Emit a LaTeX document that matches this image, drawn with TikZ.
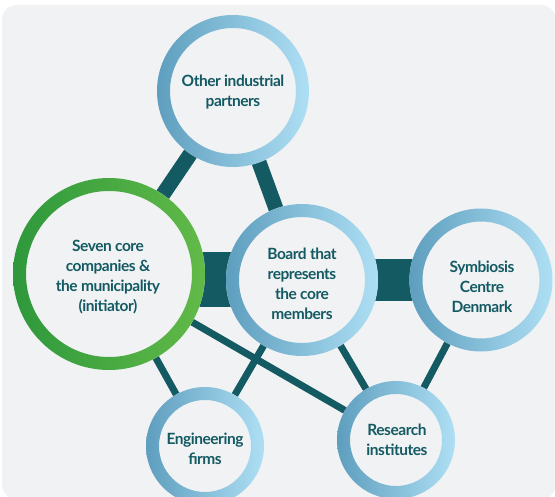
\documentclass[tikz,border=0pt]{standalone}
\usepackage{fontspec}
\setmainfont{Lato}[LetterSpace=-3]
\definecolor{bg}{HTML}{F1F2F4}
\definecolor{teal}{HTML}{145A63}
\definecolor{blueL}{HTML}{5E9EBE}
\definecolor{blueR}{HTML}{AEDFF4}
\definecolor{grnL}{HTML}{2E983C}
\definecolor{grnR}{HTML}{62BA48}
\begin{document}
\begin{tikzpicture}[x=1pt, y=-1pt,
    every node/.style={inner sep=0pt, align=center, text=teal,
      font=\bfseries\fontsize{15.5}{19.8}\selectfont},
    link/.style={draw=teal, line width=7pt},
    bar/.style={draw=teal, line width=15pt},
  ]
  \useasboundingbox (0,0) rectangle (555,497);
  \clip (0,0) rectangle (555,497);
  \fill[white] (0,0) rectangle (555,497);
  \fill[bg, rounded corners=15pt] (2,5) rectangle (556,499);
  % centres
  \coordinate (other) at (233,91);
  \coordinate (seven) at (109,274);
  \coordinate (board) at (302,280);
  \coordinate (symb) at (481,280);
  \coordinate (eng) at (205,446);
  \coordinate (res) at (396,440);
  % links
  \draw[link] (seven) -- (eng);
  \draw[link] (seven) -- (res);
  \draw[link] (board) -- (eng);
  \draw[link] (board) -- (res);
  \draw[link] (symb) -- (res);
  \draw[bar] (other) -- (seven);
  \draw[bar] (other) -- (board);
  \draw[teal, line width=55pt] (seven |- board) -- (board);
  \draw[teal, line width=42pt] (board) -- (symb);
  % rings
  \foreach \n/\r/\i in {other/76/63, board/76/63, symb/71.5/58.5,
      eng/59/46, res/59/46} {
    \fill[bg] (\n) circle (\r pt);
    \shade[even odd rule, left color=blueL, right color=blueR]
      (\n) circle (\r pt) (\n) circle (\i pt);
  }
  \fill[bg] (seven) circle (96pt);
  \shade[even odd rule, left color=grnL, right color=grnR]
    (seven) circle (96pt) (seven) circle (83pt);
  % labels
  \node (otherlbl) at (233,92) {Other industrial\\partners};
  \node (sevenlbl) at (108,277) {Seven core\\companies \&\\the municipality\\(initiator)};
  \node (boardlbl) at (302,284) {Board that\\represents\\the core\\members};
  \node (symblbl) at (482,287) {Symbiosis\\Centre\\Denmark};
  \node (englbl) at (205,449) {Engineering\\firms};
  \node (reslbl) at (397,440) {Research\\institutes};
\end{tikzpicture}
\end{document}
